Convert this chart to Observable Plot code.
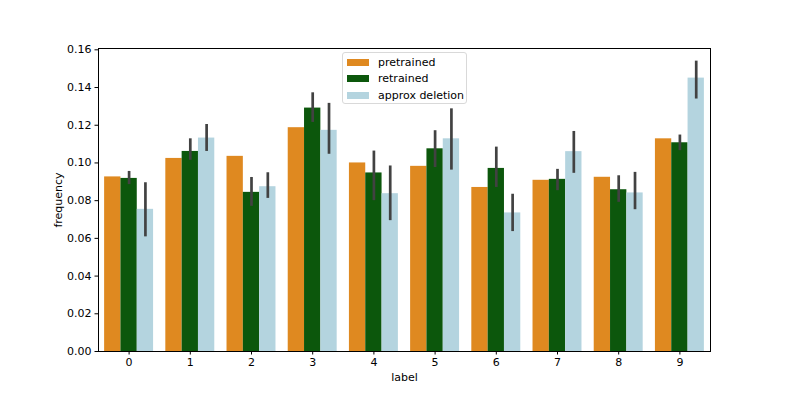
<!DOCTYPE html>
<html>
<head>
<meta charset="utf-8">
<script src="https://cdn.jsdelivr.net/npm/d3@7"></script>
<script src="https://cdn.jsdelivr.net/npm/@observablehq/plot@0.6"></script>
<style>
  html, body { margin: 0; padding: 0; background: #fff; }
  #wrap { position: relative; width: 789px; height: 395px; font-family: "DejaVu Sans", sans-serif; }
  #legend { position: absolute; left: 342px; top: 52px; width: 125px; height: 52px; border: 1px solid #d9d9d9; border-radius: 3px; background: rgba(255,255,255,0.85); font-size: 11px; color: #000; box-sizing: border-box; }
  #legend .row { position: absolute; left: 4px; height: 13px; display: flex; align-items: center; white-space: nowrap; }
  #legend .sw { width: 22px; height: 7px; margin-right: 9px; flex: none; }
</style>
</head>
<body>
<div id="wrap"></div>
<script>
const labels = [0, 1, 2, 3, 4, 5, 6, 7, 8, 9];
const seriesNames = ["pretrained", "retrained", "approx deletion"];
const seriesColors = ["#df8920", "#0c570c", "#b4d4df"];
const pretrained = [0.0926, 0.1024, 0.1035, 0.1187, 0.1000, 0.0982, 0.0870, 0.0908, 0.0924, 0.1128];
const retrained = [0.0918, 0.1061, 0.0844, 0.1291, 0.0947, 0.1075, 0.0971, 0.0913, 0.0858, 0.1107];
const retrainedLo = [0.0885, 0.1014, 0.0770, 0.1215, 0.0800, 0.0976, 0.0870, 0.0853, 0.0791, 0.1065];
const retrainedHi = [0.0955, 0.1128, 0.0923, 0.1372, 0.1063, 0.1171, 0.1084, 0.0966, 0.0932, 0.1148];
const approx = [0.0754, 0.1132, 0.0874, 0.1173, 0.0837, 0.1128, 0.0735, 0.1060, 0.0841, 0.1450];
const approxLo = [0.0608, 0.1061, 0.0812, 0.1046, 0.0694, 0.0962, 0.0636, 0.0945, 0.0752, 0.1339];
const approxHi = [0.0895, 0.1204, 0.0948, 0.1316, 0.0984, 0.1287, 0.0834, 0.1167, 0.0950, 0.1540];
const yTicks = [0, 0.02, 0.04, 0.06, 0.08, 0.10, 0.12, 0.14, 0.16];

const groupWidth = 0.8;
const barW = groupWidth / seriesNames.length;
const values = [pretrained, retrained, approx];
const los = [null, retrainedLo, approxLo];
const his = [null, retrainedHi, approxHi];

const bars = [];
const errs = [];
seriesNames.forEach((s, si) => {
  labels.forEach((lab, i) => {
    const x1 = lab - groupWidth / 2 + si * barW;
    bars.push({series: s, x1, x2: x1 + barW, y: values[si][i]});
    if (los[si]) errs.push({x: x1 + barW / 2, lo: los[si][i], hi: his[si][i]});
  });
});

const chart = Plot.plot({
  width: 789,
  height: 395,
  marginLeft: 98,
  marginRight: 79,
  marginTop: 48,
  marginBottom: 44,
  style: {fontFamily: "DejaVu Sans, sans-serif", fontSize: "11px", color: "#000", background: "#fff"},
  x: {domain: [-0.5, 9.5]},
  y: {domain: [0, 0.1607]},
  color: {domain: seriesNames, range: seriesColors},
  marks: [
    Plot.rectY(bars, {x1: "x1", x2: "x2", y: "y", fill: "series", inset: 0}),
    Plot.ruleX(errs, {x: "x", y1: "lo", y2: "hi", stroke: "#424242", strokeWidth: 2.7}),
    Plot.axisX({ticks: labels, tickFormat: d => String(d), tickSize: 3.5, tickPadding: 3, label: "label", labelAnchor: "center", labelOffset: 29, labelArrow: "none"}),
    Plot.axisY({ticks: yTicks, tickFormat: d3.format(".2f"), tickSize: 3.5, tickPadding: 3.5, label: "frequency", labelAnchor: "center", labelOffset: 44, labelArrow: "none"}),
    Plot.frame({stroke: "#000", strokeWidth: 1})
  ]
});

const wrap = document.getElementById("wrap");
wrap.appendChild(chart);

const legend = document.createElement("div");
legend.id = "legend";
seriesNames.forEach((s, i) => {
  const row = document.createElement("div");
  row.className = "row";
  row.style.top = (2.5 + i * 16.6) + "px";
  const sw = document.createElement("div");
  sw.className = "sw";
  sw.style.background = seriesColors[i];
  const tx = document.createElement("span");
  tx.textContent = s;
  row.appendChild(sw);
  row.appendChild(tx);
  legend.appendChild(row);
});
wrap.appendChild(legend);
</script>
</body>
</html>
